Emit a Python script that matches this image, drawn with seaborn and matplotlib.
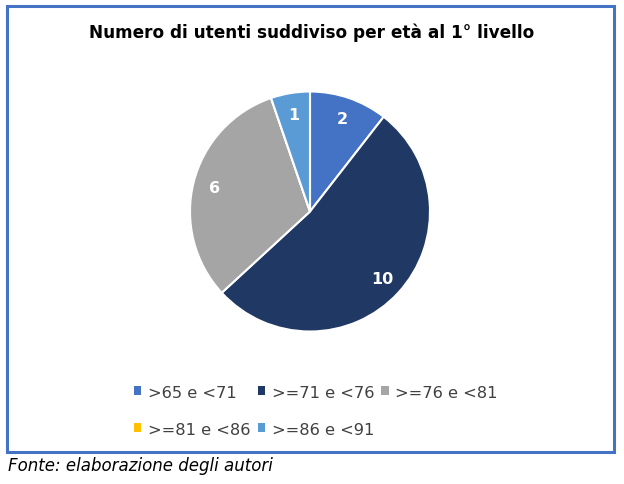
import matplotlib
matplotlib.use("Agg")
import matplotlib.pyplot as plt
import seaborn as sns
from matplotlib.patches import Rectangle, Patch

# data
fasce = [">65 e <71", ">=71 e <76", ">=76 e <81", ">=81 e <86", ">=86 e <91"]
utenti = [2, 10, 6, 0, 1]
colori = ["#4472C4", "#203864", "#A5A5A5", "#FFC000", "#5B9BD5"]

titolo = "Numero di utenti suddiviso per età al 1° livello"
fonte = "Fonte: elaborazione degli autori"

sns.set_theme(style="white")
plt.rcParams["font.family"] = ["DejaVu Sans"]
palette = sns.color_palette(colori)

fig = plt.figure(figsize=(6.24, 4.85), dpi=100)

# blue frame around the chart area
fig.patches.append(Rectangle((7 / 624, 1 - 453 / 485), 607 / 624, 446 / 485,
                             transform=fig.transFigure, fill=False,
                             edgecolor="#4472C4", linewidth=2.2))

cx, cy, r = 310 / 624, 1 - 212.5 / 485, 120
ax = fig.add_axes([cx - r / 624, cy - r / 485, 2 * r / 624, 2 * r / 485])


def etichetta(pct):
    val = round(pct * sum(utenti) / 100)
    return str(val) if val > 0 else ""


wedges, _, testi = ax.pie(
    utenti,
    colors=palette,
    startangle=90,
    counterclock=False,
    autopct=etichetta,
    pctdistance=0.82,
    radius=1.0,
    wedgeprops=dict(edgecolor="white", linewidth=1.5),
    textprops=dict(color="white", fontsize=11.5, fontweight="bold"),
)
ax.set_xlim(-1, 1)
ax.set_ylim(-1, 1)
ax.set_aspect("equal")
ax.axis("off")

fig.text(0.5, 1 - 33 / 485, titolo, ha="center", va="center",
         fontsize=12.2, fontweight="bold", color="black")

# legend: row-major order with 3 columns
handles = [Patch(facecolor=c, edgecolor="none") for c in palette]
ordine = [0, 3, 1, 4, 2]
fig.legend([handles[i] for i in ordine], [fasce[i] for i in ordine],
           ncol=3, loc="upper left", bbox_to_anchor=(126 / 624, 1 - 377.5 / 485),
           frameon=False, fontsize=11.7, handlelength=0.45, handleheight=0.45,
           handletextpad=0.4, columnspacing=0.45, labelspacing=1.35,
           borderpad=0, labelcolor="#404040")

fig.text(8 / 624, 1 - 466 / 485, fonte, ha="left", va="center",
         fontsize=12, style="italic", color="black")

fig.savefig("out.png", dpi=100)
